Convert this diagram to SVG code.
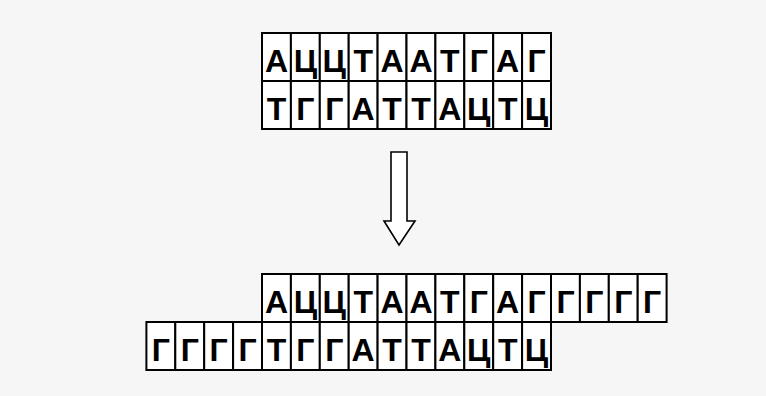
<svg xmlns="http://www.w3.org/2000/svg" width="766" height="396" viewBox="0 0 766 396">
  <style>
    .cell { fill: #ffffff; stroke: #000000; stroke-width: 2; }
    .base { font-family: "Liberation Sans", Arial, sans-serif; font-weight: bold; font-size: 32px; text-anchor: middle; fill: #000000; }
    .arrow { fill: #ffffff; stroke: #000000; stroke-width: 1.6; stroke-linejoin: miter; }
  </style>
  <defs>
    <rect id="c" class="cell" width="28.9" height="48"/>
  </defs>
  <rect width="766" height="396" fill="#f6f6f6"/>

  <!-- Original double strand -->
  <g id="strand-original">
    <g id="orig-top">
      <use href="#c" x="262" y="33"/><use href="#c" x="290.9" y="33"/><use href="#c" x="319.8" y="33"/><use href="#c" x="348.7" y="33"/><use href="#c" x="377.6" y="33"/>
      <use href="#c" x="406.5" y="33"/><use href="#c" x="435.4" y="33"/><use href="#c" x="464.3" y="33"/><use href="#c" x="493.2" y="33"/><use href="#c" x="522.1" y="33"/>
      <text class="base" x="276.45" y="72">А</text><text class="base" x="305.35" y="72">Ц</text><text class="base" x="334.25" y="72">Ц</text><text class="base" x="363.15" y="72">Т</text><text class="base" x="392.05" y="72">А</text>
      <text class="base" x="420.95" y="72">А</text><text class="base" x="449.85" y="72">Т</text><text class="base" x="478.75" y="72">Г</text><text class="base" x="507.65" y="72">А</text><text class="base" x="536.55" y="72">Г</text>
    </g>
    <g id="orig-bottom">
      <use href="#c" x="262" y="81"/><use href="#c" x="290.9" y="81"/><use href="#c" x="319.8" y="81"/><use href="#c" x="348.7" y="81"/><use href="#c" x="377.6" y="81"/>
      <use href="#c" x="406.5" y="81"/><use href="#c" x="435.4" y="81"/><use href="#c" x="464.3" y="81"/><use href="#c" x="493.2" y="81"/><use href="#c" x="522.1" y="81"/>
      <text class="base" x="276.45" y="120">Т</text><text class="base" x="305.35" y="120">Г</text><text class="base" x="334.25" y="120">Г</text><text class="base" x="363.15" y="120">А</text><text class="base" x="392.05" y="120">Т</text>
      <text class="base" x="420.95" y="120">Т</text><text class="base" x="449.85" y="120">А</text><text class="base" x="478.75" y="120">Ц</text><text class="base" x="507.65" y="120">Т</text><text class="base" x="536.55" y="120">Ц</text>
    </g>
  </g>

  <!-- Transition arrow -->
  <g id="connectors">
    <path class="arrow" d="M391,152 H407 V221 H415 L399,245 L384,221 H391 Z"/>
  </g>

  <!-- Extended strands with G overhangs -->
  <g id="strand-extended">
    <g id="ext-top">
      <use href="#c" x="262" y="274"/><use href="#c" x="290.9" y="274"/><use href="#c" x="319.8" y="274"/><use href="#c" x="348.7" y="274"/><use href="#c" x="377.6" y="274"/>
      <use href="#c" x="406.5" y="274"/><use href="#c" x="435.4" y="274"/><use href="#c" x="464.3" y="274"/><use href="#c" x="493.2" y="274"/><use href="#c" x="522.1" y="274"/>
      <use href="#c" x="551" y="274"/><use href="#c" x="579.9" y="274"/><use href="#c" x="608.8" y="274"/><use href="#c" x="637.7" y="274"/>
      <text class="base" x="276.45" y="313">А</text><text class="base" x="305.35" y="313">Ц</text><text class="base" x="334.25" y="313">Ц</text><text class="base" x="363.15" y="313">Т</text><text class="base" x="392.05" y="313">А</text>
      <text class="base" x="420.95" y="313">А</text><text class="base" x="449.85" y="313">Т</text><text class="base" x="478.75" y="313">Г</text><text class="base" x="507.65" y="313">А</text><text class="base" x="536.55" y="313">Г</text>
      <text class="base" x="565.45" y="313">Г</text><text class="base" x="594.35" y="313">Г</text><text class="base" x="623.25" y="313">Г</text><text class="base" x="652.15" y="313">Г</text>
    </g>
    <g id="ext-bottom">
      <use href="#c" x="146.4" y="322"/><use href="#c" x="175.3" y="322"/><use href="#c" x="204.2" y="322"/><use href="#c" x="233.1" y="322"/>
      <use href="#c" x="262" y="322"/><use href="#c" x="290.9" y="322"/><use href="#c" x="319.8" y="322"/><use href="#c" x="348.7" y="322"/><use href="#c" x="377.6" y="322"/>
      <use href="#c" x="406.5" y="322"/><use href="#c" x="435.4" y="322"/><use href="#c" x="464.3" y="322"/><use href="#c" x="493.2" y="322"/><use href="#c" x="522.1" y="322"/>
      <text class="base" x="160.85" y="361">Г</text><text class="base" x="189.75" y="361">Г</text><text class="base" x="218.65" y="361">Г</text><text class="base" x="247.55" y="361">Г</text>
      <text class="base" x="276.45" y="361">Т</text><text class="base" x="305.35" y="361">Г</text><text class="base" x="334.25" y="361">Г</text><text class="base" x="363.15" y="361">А</text><text class="base" x="392.05" y="361">Т</text>
      <text class="base" x="420.95" y="361">Т</text><text class="base" x="449.85" y="361">А</text><text class="base" x="478.75" y="361">Ц</text><text class="base" x="507.65" y="361">Т</text><text class="base" x="536.55" y="361">Ц</text>
    </g>
  </g>
</svg>
